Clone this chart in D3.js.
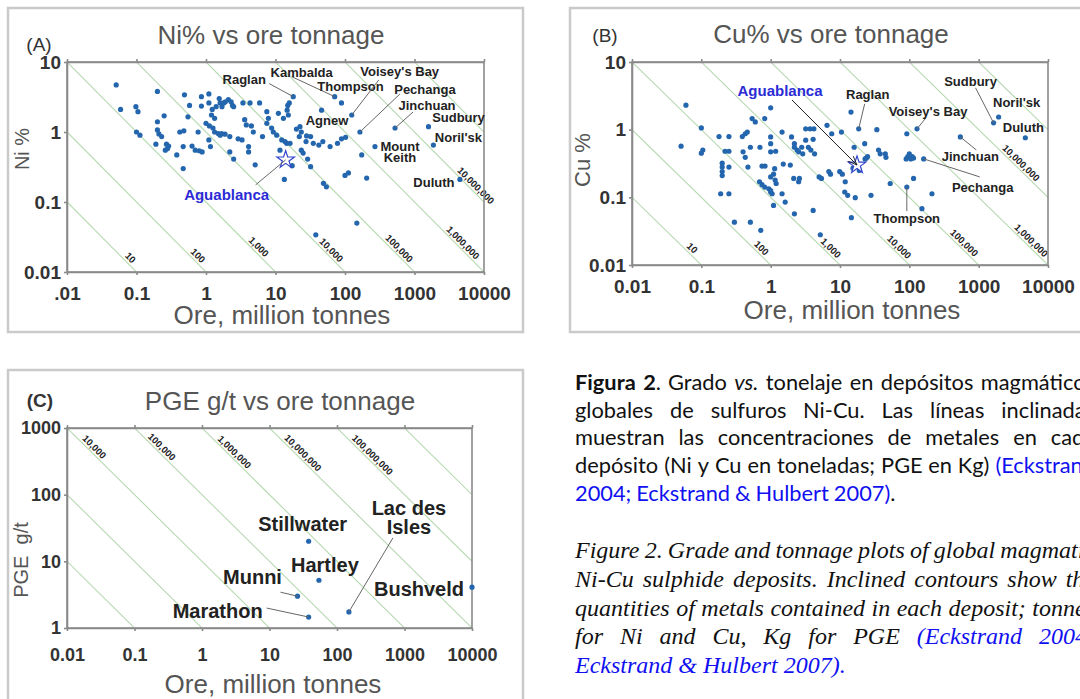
<!DOCTYPE html>
<html>
<head>
<meta charset="utf-8">
<script src="https://cdn.jsdelivr.net/npm/d3@7"></script>
<style>
  body { margin: 0; background: #fff; overflow: hidden; }
  svg { display: block; }
</style>
</head>
<body>
<svg id="fig" width="1080" height="699"></svg>
<script>
// ---- data ----
const oreTicks = [0.01, 0.1, 1, 10, 100, 1000, 10000];
const oreTickLabelsA = [".01", "0.1", "1", "10", "100", "1000", "10000"];
const oreTickLabels = ["0.01", "0.1", "1", "10", "100", "1000", "10000"];
const pctTicks = [0.01, 0.1, 1, 10];
const pctTickLabels = ["0.01", "0.1", "1", "10"];
const pgeTicks = [1, 10, 100, 1000];
const pgeTickLabels = ["1", "10", "100", "1000"];

// contained metal contours (tonnes for Ni and Cu, kg for PGE)
const metalContours = [10, 100, 1000, 1e4, 1e5, 1e6, 1e7, 1e8];
const metalContourLabels = ["10", "100", "1,000", "10,000", "100,000", "1,000,000", "10,000,000", ""];
const niContourLabelGrade = [0.014, 0.015, 0.02, 0.018, 0.019, 0.023, 0.15, null];
const cuContourLabelGrade = [0.0155, 0.0155, 0.0155, 0.016, 0.0185, 0.02, 0.28, null];
const pgeContours = [100, 1000, 1e4, 1e5, 1e6, 1e7, 1e8, 1e9];
const pgeContourLabels = ["", "", "10,000", "100,000", "1,000,000", "10,000,000", "100,000,000", ""];
const pgeContourLabelGrade = [null, null, 452, 452, 380, 367, 343, null];

// [ore Mt, Ni %]
const niDeposits = [
  [0.051, 4.7], [0.059, 2.1], [0.098, 2.3], [0.105, 1.95], [0.10, 1.0], [0.112, 0.9],
  [0.2, 3.8], [0.2, 1.4], [0.25, 1.7], [0.2, 1.07], [0.21, 0.94], [0.23, 0.86],
  [0.19, 0.67], [0.27, 0.67], [0.29, 0.63], [0.26, 0.55], [0.28, 0.58], [0.38, 0.47],
  [0.47, 0.30], [0.49, 3.4], [0.58, 2.4], [0.55, 1.65], [0.42, 1.0], [0.48, 1.04],
  [0.47, 0.62], [0.63, 0.63], [0.70, 0.55], [0.80, 0.54], [0.88, 0.52], [0.77, 1.0],
  [0.86, 3.2], [0.86, 2.35], [1.1, 3.5], [1.1, 2.6], [1.1, 0.77], [1.16, 0.62],
  [1.0, 1.33], [1.12, 1.22], [1.26, 1.14], [1.33, 1.0], [1.5, 0.95], [1.6, 0.9],
  [1.2, 1.75], [1.33, 1.57], [1.23, 2.1], [1.4, 2.3], [1.55, 3.0], [1.6, 2.6],
  [1.7, 2.3], [1.8, 2.6], [1.9, 2.7], [2.1, 2.9], [2.3, 2.7], [2.4, 2.4],
  [1.68, 0.95], [1.88, 0.93], [2.2, 0.86], [2.2, 0.52], [2.5, 0.41], [2.5, 2.3],
  [2.9, 0.8], [3.3, 0.77], [3.4, 2.6], [4.3, 2.6], [5.9, 2.6], [3.6, 1.5],
  [3.8, 1.26], [4.5, 1.22], [4.8, 1.0], [4.1, 0.62], [4.1, 0.52], [5.1, 0.34],
  [6.5, 0.86], [7.5, 1.95], [7.5, 1.33], [7.9, 1.57], [8.8, 1.14], [9.3, 1.0],
  [10.4, 0.9], [11, 1.85], [12.3, 0.77], [13.7, 0.73], [14.5, 0.69], [15.3, 1.75],
  [18, 3.2], [15, 2.4], [16.2, 0.69], [11.6, 0.55], [13.4, 0.21], [17.4, 0.33],
  [20, 1.1], [22, 0.86], [23.5, 0.55], [25, 0.5], [29, 0.41], [27.5, 0.73],
  [32, 0.32], [38, 0.034], [15.8, 2.6], [14.7, 2.05], [13, 1.57], [22.5, 1.19],
  [23.5, 1.0], [28, 0.88], [46, 2.05], [48, 0.73], [61, 0.62], [78, 0.69],
  [89, 0.8], [102, 0.84], [71, 3.2], [89, 2.6], [125, 1.75], [164, 1.0],
  [525, 1.14], [1590, 1.19], [1870, 0.65], [270, 0.62], [4500, 0.21], [49, 0.185],
  [54, 0.165], [100, 0.24], [112, 0.26], [205, 0.22], [148, 0.05], [35, 0.69],
  [42, 0.65], [32, 0.86], [174, 0.47]
];

// [ore Mt, Cu %]
const cuDeposits = [
  [0.051, 0.57], [0.060, 2.3], [0.1, 1.06], [0.1, 0.45], [0.105, 0.5], [0.18, 0.79],
  [0.25, 0.79], [0.22, 0.48], [0.25, 0.48], [0.2, 0.32], [0.2, 0.28], [0.2, 0.24],
  [0.2, 0.21], [0.25, 0.28], [0.19, 0.113], [0.25, 0.113], [0.30, 0.043], [0.51, 0.043],
  [0.72, 0.0325], [0.39, 0.79], [0.43, 0.87], [0.46, 0.92], [0.54, 1.46], [0.60, 1.3],
  [0.82, 1.46], [1.0, 2.1], [0.40, 0.47], [0.43, 0.39], [0.47, 0.28], [0.51, 0.55],
  [0.69, 0.17], [0.75, 0.154], [0.82, 0.142], [0.94, 0.134], [1.0, 0.12], [1.05, 0.113],
  [0.70, 0.55], [0.75, 0.29], [0.83, 0.29], [1.0, 0.62], [1.0, 0.78], [1.0, 0.47],
  [1.14, 0.265], [1.1, 0.22], [1.16, 0.18], [1.2, 0.16], [1.0, 0.2], [1.0, 0.126],
  [1.1, 0.076], [1.46, 0.113], [1.62, 0.085], [1.46, 0.92], [1.18, 0.48], [1.52, 0.31],
  [1.92, 0.30], [2.0, 0.78], [2.2, 0.62], [2.2, 0.55], [2.4, 0.5], [2.53, 0.47],
  [2.15, 0.19], [2.53, 0.17], [2.2, 0.057], [2.6, 0.19], [3.2, 1.03], [3.7, 1.03],
  [4.2, 1.03], [3.2, 0.70], [3.5, 0.55], [3.8, 0.50], [4.1, 0.72], [4.3, 0.44],
  [2.8, 0.55], [2.9, 0.44], [4.1, 0.064], [5.0, 0.20], [5.4, 0.19], [5.2, 0.028],
  [6.5, 1.16], [6.9, 0.24], [7.3, 0.22], [7.6, 0.87], [10.5, 0.92], [9.9, 0.24],
  [10.8, 0.22], [11.9, 0.17], [11.7, 0.12], [12.9, 0.107], [14.4, 1.82], [14.6, 0.05],
  [16.6, 0.099], [16, 0.55], [15.4, 0.27], [19, 0.25], [18.6, 1.03], [22.7, 0.62],
  [23, 0.37], [24, 0.38], [25, 0.40], [28, 0.107], [34, 1.0], [36, 0.50],
  [38, 0.44], [45, 0.44], [46, 0.39], [53, 0.16], [92, 0.87], [129, 1.03],
  [90, 0.37], [95, 0.40], [100, 0.44], [105, 0.37], [110, 0.40], [115, 0.38],
  [92, 0.142], [115, 0.19], [161, 0.37], [152, 0.068], [212, 0.113], [544, 0.78],
  [1640, 1.26], [1940, 1.54], [4710, 0.76]
];

// [ore Mt, PGE g/t]
const pgeDeposits = [[38, 20], [54, 5.2], [26, 3.0], [38, 1.46], [150, 1.74], [10000, 4.1]];

const aguablancaNi = [14, 0.4];
const aguablancaCu = [17.6, 0.30];

// named deposits: label offset from the point and optional leader end (px)
const notesA = [
  { name: "Raglan", at: [18, 3.2], dx: -49, dy: -17, leader: [-24, -13] },
  { name: "Kambalda", at: [71, 3.2], dx: -33, dy: -24, leader: [-43, -20] },
  { name: "Thompson", at: [89, 2.6], dx: 9, dy: -16 },
  { name: "Voisey's Bay", at: [125, 1.75], dx: 48, dy: -43, leader: [27, -35] },
  { name: "Agnew", at: [22.5, 1.19], dx: 27, dy: -6 },
  { name: "Pechanga", at: [164, 1.0], dx: 65, dy: -43, leader: [40, -38] },
  { name: "Jinchuan", at: [525, 1.14], dx: 32, dy: -23, leader: [18, -16] },
  { name: "Sudbury", at: [1590, 1.19], dx: 30, dy: -9 },
  { name: "Noril'sk", at: [1870, 0.65], dx: 25, dy: -8 },
  { name: "Mount\nKeith", at: [270, 0.62], dx: 25, dy: 0 },
  { name: "Duluth", at: [4500, 0.21], dx: -26, dy: 3 },
  { name: "Aguablanca", at: aguablancaNi, dx: -59, dy: 35, leader: [-30, 25], blue: true }
];
const notesB = [
  { name: "Aguablanca", at: aguablancaCu, dx: -77, dy: -75, leader: [-65, -65], blue: true, arrow: true },
  { name: "Raglan", at: [18.6, 1.03], dx: 9, dy: -34, leader: [6, -25] },
  { name: "Voisey's Bay", at: [129, 1.03], dx: 11, dy: -17, leader: [9, -11] },
  { name: "Sudbury", at: [1640, 1.26], dx: -23, dy: -41, leader: [-18, -35] },
  { name: "Noril'sk", at: [1940, 1.54], dx: 18, dy: -14 },
  { name: "Duluth", at: [4710, 0.76], dx: -2, dy: -10 },
  { name: "Jinchuan", at: [544, 0.78], dx: 10, dy: 20, leader: [16, 13] },
  { name: "Pechanga", at: [161, 0.37], dx: 59, dy: 29, leader: [56, 18] },
  { name: "Thompson", at: [92, 0.142], dx: 0, dy: 31, leader: [0, 24] }
];
const notesC = [
  { name: "Stillwater", at: [38, 20], dx: -6, dy: -17 },
  { name: "Hartley", at: [54, 5.2], dx: 6, dy: -15 },
  { name: "Munni", at: [26, 3.0], dx: -45, dy: -19, leader: [-17, -4] },
  { name: "Marathon", at: [38, 1.46], dx: -91, dy: -6, leader: [-42, -9] },
  { name: "Lac des\nIsles", at: [150, 1.74], dx: 60, dy: -104, leader: [44, -74] },
  { name: "Bushveld", at: [10000, 4.1], dx: -53, dy: 2 }
];

// caption lines (**bold**, *italic*, [link])
const captionEs = [
  "**Figura** **2**. Grado *vs.* tonelaje en depósitos magmáticos",
  "globales de sulfuros Ni-Cu. Las líneas inclinadas",
  "muestran las concentraciones de metales en cada",
  "depósito (Ni y Cu en toneladas; PGE en Kg) [(Eckstrand]",
  "[2004;] [Eckstrand] [&] [Hulbert] [2007)]."
];
const captionEn = [
  "Figure 2. Grade and tonnage plots of global magmatic",
  "Ni-Cu sulphide deposits. Inclined contours show the",
  "quantities of metals contained in each deposit; tonnes",
  "for Ni and Cu, Kg for PGE [(Eckstrand] [2004;]",
  "[Eckstrand] [&] [Hulbert] [2007).]"
];

const sans = "'Liberation Sans', Arial, sans-serif";
const dotColor = "#2466ad";
const blue = "#2b2bd6";
const svg = d3.select("#fig");

svg.append("defs").append("marker")
  .attr("id", "arrow").attr("viewBox", "0 0 10 10")
  .attr("refX", 10).attr("refY", 5)
  .attr("markerWidth", 9).attr("markerHeight", 9)
  .attr("orient", "auto")
  .append("path").attr("d", "M0,1 L10,5 L0,9")
  .attr("fill", "none").attr("stroke", "#222").attr("stroke-width", 1);

function drawPanel(p) {
  const g = svg.append("g");
  const [fx0, fy0, fx1, fy1] = p.frame;
  const [px0, py0, px1, py1] = p.plot;

  g.append("rect")
    .attr("x", fx0).attr("y", fy0)
    .attr("width", fx1 - fx0).attr("height", fy1 - fy0)
    .attr("fill", "#fff").attr("stroke", "#cacaca").attr("stroke-width", 2.5);

  const x = d3.scaleLog().domain([0.01, 10000]).range([px0, px1]);
  const y = d3.scaleLog().domain(p.yDomain).range([py1, py0]);

  g.append("clipPath").attr("id", "clip" + p.id)
    .append("rect").attr("x", px0).attr("y", py0)
    .attr("width", px1 - px0).attr("height", py1 - py0);

  // contained metal contours
  const cg = g.append("g").attr("clip-path", `url(#clip${p.id})`);
  p.contours.forEach(v => {
    cg.append("line")
      .attr("x1", x(0.01)).attr("y1", y(v * p.k / 0.01))
      .attr("x2", x(10000)).attr("y2", y(v * p.k / 10000))
      .attr("stroke", "#b6dab0").attr("stroke-width", 1.1);
  });
  p.contours.forEach((v, i) => {
    const gr = p.contourAt[i];
    if (!p.contourLabels[i] || !gr) return;
    const ore = v * p.k / gr;
    const cx = x(ore), cy = y(gr);
    const dx = x(ore * 10) - cx, dy = y(gr / 10) - cy;
    const len = Math.hypot(dx, dy);
    const ang = Math.atan2(dy, dx) * 180 / Math.PI;
    g.append("text")
      .attr("transform", `translate(${cx + dy / len * 6},${cy - dx / len * 6}) rotate(${ang})`)
      .attr("text-anchor", "middle").attr("dominant-baseline", "central")
      .attr("font-family", sans).attr("font-weight", "bold").attr("font-size", 9.5)
      .attr("fill", "#222")
      .text(p.contourLabels[i]);
  });

  // axes
  const styleAxis = (sel, size) => {
    sel.select(".domain").attr("stroke", "#8a8a8a").attr("stroke-width", 1.6);
    sel.selectAll(".tick line").attr("stroke", "#8a8a8a").attr("stroke-width", 1.6);
    sel.selectAll(".tick text")
      .attr("font-family", sans).attr("font-weight", "bold")
      .attr("font-size", size).attr("fill", "#333");
  };
  g.append("rect").attr("x", px0).attr("y", py0)
    .attr("width", px1 - px0).attr("height", py1 - py0)
    .attr("fill", "none").attr("stroke", "#8a8a8a").attr("stroke-width", 1.6);
  g.append("g").attr("transform", `translate(0,${py1})`)
    .call(d3.axisBottom(x).tickValues(oreTicks).tickFormat((d, i) => p.xLabels[i])
      .tickSize(3).tickSizeOuter(0).tickPadding(p.xPad))
    .call(s => styleAxis(s, p.tickSize));
  g.append("g").attr("transform", `translate(0,${py0})`)
    .call(d3.axisTop(x).tickValues(oreTicks).tickFormat("").tickSize(3).tickSizeOuter(0))
    .call(s => styleAxis(s, p.tickSize));
  g.append("g").attr("transform", `translate(${px0},0)`)
    .call(d3.axisLeft(y).tickValues(p.yTicks).tickFormat((d, i) => p.yLabels[i])
      .tickSize(3).tickSizeOuter(0).tickPadding(3))
    .call(s => styleAxis(s, p.tickSize));

  // titles
  const txt = (t, tx, ty, size, opts = {}) => g.append("text")
    .attr("x", tx).attr("y", ty).attr("text-anchor", opts.anchor || "middle")
    .attr("font-family", sans).attr("font-size", size)
    .attr("font-weight", opts.weight || "normal")
    .attr("fill", opts.fill || "#555").text(t);
  txt(p.title, p.titlePos[0], p.titlePos[1], 26);
  txt(p.letter, p.letterPos[0], p.letterPos[1], 19, { fill: "#333", weight: p.letterWeight });
  txt("Ore, million tonnes", p.xTitlePos[0], p.xTitlePos[1], 26);
  g.append("text")
    .attr("transform", `translate(${p.yTitlePos[0]},${p.yTitlePos[1]}) rotate(-90)`)
    .attr("text-anchor", "middle").attr("dominant-baseline", "central")
    .attr("font-family", sans).attr("font-size", p.yTitleSize).attr("fill", "#555")
    .attr("xml:space", "preserve")
    .text(p.yTitle);

  // deposits
  g.append("g").selectAll("circle")
    .data(p.deposits)
    .join("circle")
    .attr("cx", d => x(d[0])).attr("cy", d => y(d[1]))
    .attr("r", 2.6).attr("fill", dotColor);

  if (p.star) {
    g.append("path")
      .attr("d", d3.symbol(d3.symbolStar, 95)())
      .attr("transform", `translate(${x(p.star[0])},${y(p.star[1])})`)
      .attr("fill", "#fff").attr("stroke", "#3344cc").attr("stroke-width", 1.2);
  }

  // deposit names and leaders
  p.notes.forEach(n => {
    const nx = x(n.at[0]), ny = y(n.at[1]);
    if (n.leader) {
      const ln = g.append("line")
        .attr("stroke", n.arrow ? "#222" : "#666").attr("stroke-width", 1);
      if (n.arrow) {
        ln.attr("x1", nx + n.leader[0]).attr("y1", ny + n.leader[1])
          .attr("x2", nx).attr("y2", ny).attr("marker-end", "url(#arrow)");
      } else {
        ln.attr("x1", nx).attr("y1", ny)
          .attr("x2", nx + n.leader[0]).attr("y2", ny + n.leader[1]);
      }
    }
    n.name.split("\n").forEach((line, i) => {
      g.append("text")
        .attr("x", nx + n.dx).attr("y", ny + n.dy + i * p.noteLine)
        .attr("text-anchor", "middle").attr("dominant-baseline", "central")
        .attr("font-family", sans).attr("font-weight", "bold")
        .attr("font-size", n.blue ? p.noteSize + 2 : p.noteSize)
        .attr("fill", n.blue ? blue : "#222")
        .text(line);
    });
  });
}

drawPanel({
  id: "A", frame: [8, 8, 523, 332], plot: [67, 62, 484, 272],
  yDomain: [0.01, 10], yTicks: pctTicks, yLabels: pctTickLabels,
  xLabels: oreTickLabelsA, xPad: 12, tickSize: 19,
  title: "Ni% vs ore tonnage", titlePos: [271, 44],
  letter: "(A)", letterPos: [39, 51], letterWeight: "normal",
  xTitlePos: [282, 324], yTitle: "Ni %", yTitlePos: [22, 149], yTitleSize: 20,
  contours: metalContours, k: 1e-4, contourLabels: metalContourLabels, contourAt: niContourLabelGrade,
  deposits: niDeposits, star: aguablancaNi, notes: notesA, noteSize: 13, noteLine: 11
});

drawPanel({
  id: "B", frame: [570, 8, 1090, 332], plot: [632, 62, 1048, 265],
  yDomain: [0.01, 10], yTicks: pctTicks, yLabels: pctTickLabels,
  xLabels: oreTickLabels, xPad: 12, tickSize: 19,
  title: "Cu% vs ore tonnage", titlePos: [831, 43],
  letter: "(B)", letterPos: [605, 42], letterWeight: "normal",
  xTitlePos: [852, 319], yTitle: "Cu %", yTitlePos: [582, 160], yTitleSize: 22,
  contours: metalContours, k: 1e-4, contourLabels: metalContourLabels, contourAt: cuContourLabelGrade,
  deposits: cuDeposits, star: aguablancaCu, notes: notesB, noteSize: 13, noteLine: 11
});

drawPanel({
  id: "C", frame: [8, 370, 523, 712], plot: [67, 428, 472, 628],
  yDomain: [1, 1000], yTicks: pgeTicks, yLabels: pgeTickLabels,
  xLabels: oreTickLabels, xPad: 17, tickSize: 18,
  title: "PGE g/t vs ore tonnage", titlePos: [280, 410],
  letter: "(C)", letterPos: [40, 407], letterWeight: "bold",
  xTitlePos: [273, 693], yTitle: "PGE  g/t", yTitlePos: [21, 560], yTitleSize: 20,
  contours: pgeContours, k: 1e-3, contourLabels: pgeContourLabels, contourAt: pgeContourLabelGrade,
  deposits: pgeDeposits, star: null, notes: notesC, noteSize: 20, noteLine: 19
});

// ---- caption text, justified like the source page ----
function parseWord(w) {
  return w.split(/(\*\*[^*]+\*\*|\*[^*]+\*|\[[^\]]+\])/).filter(s => s).map(s => {
    if (s.startsWith("**")) return { t: s.slice(2, -2), b: true };
    if (s.startsWith("*")) return { t: s.slice(1, -1), i: true };
    if (s.startsWith("[")) return { t: s.slice(1, -1), link: true };
    return { t: s };
  });
}

function writeLine(line, x0, x1, baseY, font, justify) {
  const t = svg.append("text").attr("y", baseY)
    .attr("font-family", font.family).attr("font-size", font.size)
    .attr("font-style", font.italic ? "italic" : "normal").attr("fill", "#111");
  const words = line.split(" ").map(w => parseWord(w).map(r =>
    t.append("tspan").text(r.t)
      .attr("font-weight", r.b ? "bold" : null)
      .attr("font-style", r.i ? "italic" : null)
      .attr("fill", r.link ? "#1010f0" : null)));
  const widths = words.map(ts => d3.sum(ts, s => s.node().getComputedTextLength()));
  const gap = justify ? (x1 - x0 - d3.sum(widths)) / (words.length - 1) : font.size * font.space;
  let cx = x0;
  words.forEach((ts, i) => {
    ts[0].attr("x", cx);
    cx += widths[i] + gap;
  });
}

function writeBlock(lines, x0, x1, y0, lineH, font) {
  lines.forEach((l, i) => writeLine(l, x0, x1, y0 + i * lineH, font, i < lines.length - 1));
}

writeBlock(captionEs, 575, 1095, 390, 27.7, { family: "Lato, 'Open Sans', sans-serif", size: 21.8, space: 0.23 });
writeBlock(captionEn, 575, 1095, 558, 28.75, { family: "'Liberation Serif', serif", size: 24, italic: true, space: 0.25 });
</script>
</body>
</html>
